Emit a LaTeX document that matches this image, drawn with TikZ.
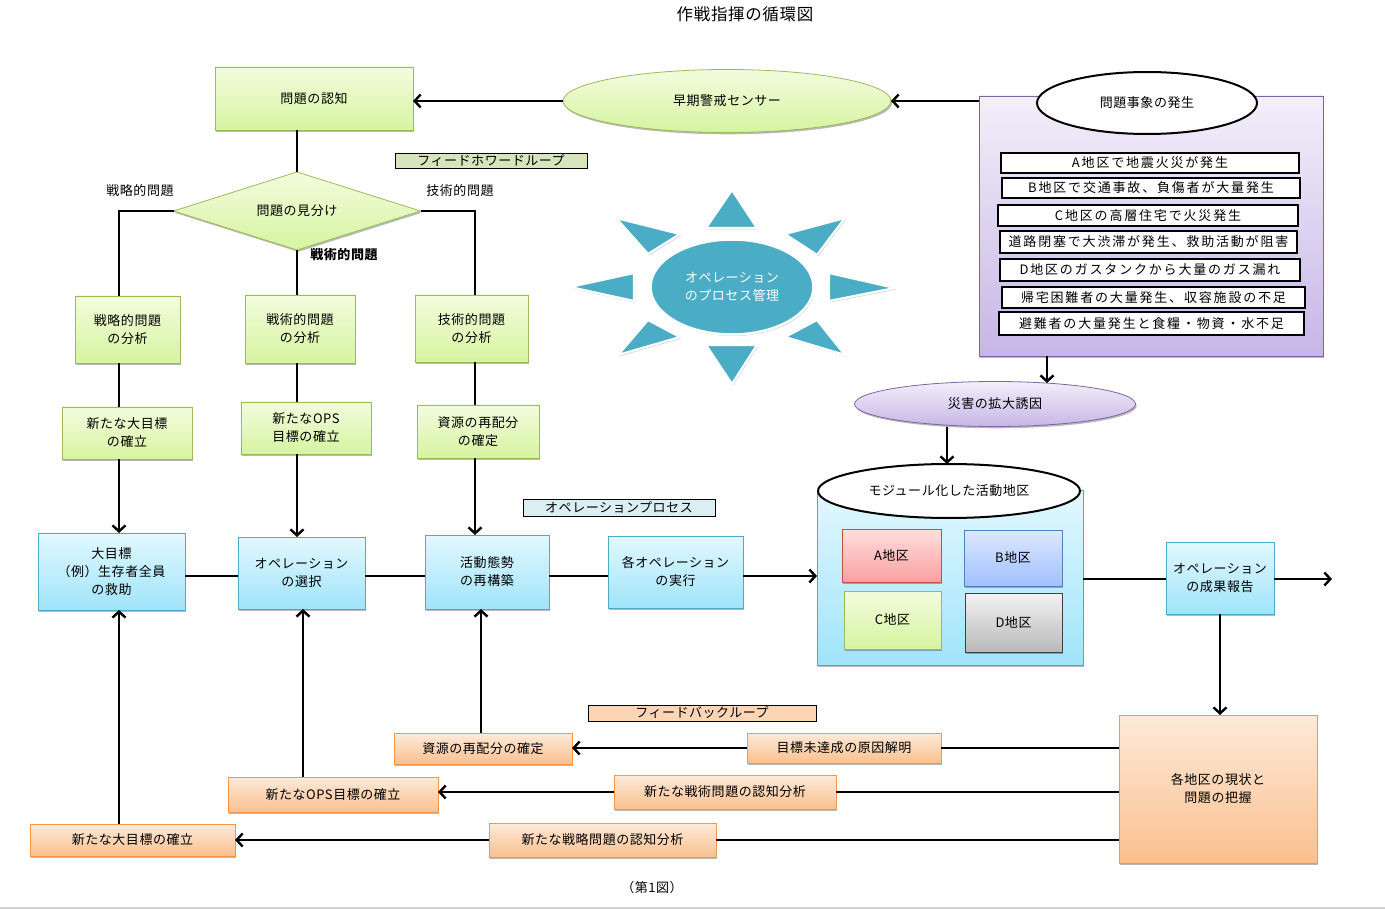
\documentclass[tikz,border=0pt]{standalone}
\usepackage{fontspec}
\newfontfamily\jp{Noto Sans CJK JP}[LetterSpace=4]
\newfontfamily\jpw{Noto Sans CJK JP}[LetterSpace=14]
\usetikzlibrary{shapes.geometric,arrows.meta,shadows}
\definecolor{gtop}{RGB}{243,252,222}
\definecolor{gbot}{RGB}{214,244,160}
\definecolor{gbrd}{RGB}{155,187,89}
\definecolor{btop}{RGB}{226,248,254}
\definecolor{bbot}{RGB}{160,228,250}
\definecolor{bbrd}{RGB}{75,172,198}
\definecolor{otop}{RGB}{253,234,218}
\definecolor{obot}{RGB}{250,192,142}
\definecolor{obrd}{RGB}{247,150,70}
\definecolor{ptop}{RGB}{243,239,250}
\definecolor{pbot}{RGB}{198,182,230}
\definecolor{pbrd}{RGB}{128,100,162}
\definecolor{sunc}{RGB}{75,172,198}
\definecolor{atop}{RGB}{255,222,222}
\definecolor{abot}{RGB}{250,160,160}
\definecolor{abrd}{RGB}{192,80,77}
\definecolor{xtop}{RGB}{222,232,255}
\definecolor{xbot}{RGB}{160,192,255}
\definecolor{xbrd}{RGB}{79,129,189}
\definecolor{dtop}{RGB}{242,242,242}
\definecolor{dbot}{RGB}{185,185,185}
\definecolor{dbrd}{RGB}{64,64,64}
\definecolor{fffill}{RGB}{215,228,188}
\definecolor{opfill}{RGB}{219,238,244}
\definecolor{fbfill}{RGB}{252,213,180}
\tikzset{
  txt/.style={font=\jp\fontsize{13}{18}\selectfont, align=center, inner sep=1pt, outer sep=0pt},
  shd/.style={drop shadow={shadow xshift=1.2pt, shadow yshift=-1.8pt, opacity=0.28, fill=black}},
  gbox/.style={txt, rectangle, draw=gbrd, line width=0.8pt, top color=gtop, bottom color=gbot, shd},
  bbox/.style={txt, rectangle, draw=bbrd, line width=0.8pt, top color=btop, bottom color=bbot, shd},
  obox/.style={txt, rectangle, draw=obrd, line width=0.8pt, top color=otop, bottom color=obot, shd},
  abox/.style={txt, rectangle, draw=abrd, line width=0.8pt, top color=atop, bottom color=abot, shd},
  xbox/.style={txt, rectangle, draw=xbrd, line width=0.8pt, top color=xtop, bottom color=xbot, shd},
  dbox/.style={txt, rectangle, draw=dbrd, line width=0.8pt, top color=dtop, bottom color=dbot, shd},
  pbox/.style={txt, rectangle, draw=pbrd, line width=0.8pt, top color=ptop, bottom color=pbot, shd},
  lbl/.style={txt, rectangle, draw=black, line width=0.8pt},
  item/.style={font=\jpw\fontsize{13}{16}\selectfont, inner sep=0pt, outer sep=0pt, rectangle, draw=black, line width=2pt, fill=white},
  conn/.style={line width=2.4pt, black},
  arr/.style={conn, -{Straight Barb[length=6pt,width=13pt]}},
  trif/.style={fill=sunc, draw=white, line width=2.2pt, line join=round, drop shadow={shadow xshift=1pt, shadow yshift=-1.5pt, opacity=0.2, fill=black}},
}
\newcommand\bx[7]{\node[#1, minimum width={#5-#3}, minimum height={#6-#4}] (#2) at ({(#3+#5)/2},{(#4+#6)/2}) {#7};}
\begin{document}
\begin{tikzpicture}[x=1pt,y=-1pt]
\useasboundingbox (0,0) rectangle (1385,909);
\fill[white] (0,0) rectangle (1385,909);
% title & caption
\node[txt, font=\jp\fontsize{16.5}{20}\selectfont] (title) at (745,14) {作戦指揮の循環図};
\node[txt] (cap) at (652,888) {（第1図）};
\draw[gray!35, line width=2pt] (0,907.5) -- (1385,907.5);
% helper coordinates
\coordinate (c1) at (119,0);
\coordinate (c2) at (297,0);
\coordinate (c3) at (475,0);
\coordinate (c2b) at (303,0);
\coordinate (c3b) at (481,0);
\coordinate (row) at (0,576);
\coordinate (row2) at (0,579);
\coordinate (ex1) at (1047,0);
\coordinate (ex2) at (947,0);
\coordinate (outend) at (1332,579);
% green column
\bx{gbox}{ninchi}{215}{67}{413}{130}{問題の認知}
\node[txt, diamond, draw=gbrd, line width=0.8pt, top color=gtop, bottom color=gbot, shd, minimum width=247, minimum height=78, aspect=3.2] (dia) at (297,211) {問題の見分け};
\node[txt] (l1) at (140,191) {戦略的問題};
\node[txt] (l3) at (460,191) {技術的問題};
\node[txt, font=\jp\bfseries\fontsize{13}{16}\selectfont] (l2) at (344,255) {戦術的問題};
\bx{gbox}{a1}{75}{296}{180}{363}{戦略的問題\\の分析}
\bx{gbox}{a2}{245}{295}{355}{363}{戦術的問題\\の分析}
\bx{gbox}{a3}{415}{295}{528}{362}{技術的問題\\の分析}
\bx{gbox}{b1}{62}{407}{192}{459}{新たな大目標\\の確立}
\bx{gbox}{b2}{241}{402}{371}{454}{新たなOPS\\目標の確立}
\bx{gbox}{b3}{417}{405}{539}{458}{資源の再配分\\の確定}
% label boxes
\bx{lbl, fill=fffill}{ffl}{395}{153}{587}{168}{フィードホワードループ}
\bx{lbl, fill=opfill}{opl}{523}{499}{715}{516}{オペレーションプロセス}
\bx{lbl, fill=fbfill}{fbl}{588}{705}{816}{721}{フィードバックループ}
% blue row
\bx{bbox}{g1}{38}{533}{185}{610}{大目標\\（例）生存者全員\\の救助}
\bx{bbox}{g2}{238}{537}{365}{609}{オペレーション\\の選択}
\bx{bbox}{g3}{425}{535}{549}{609}{活動態勢\\の再構築}
\bx{bbox}{g4}{608}{536}{743}{608}{各オペレーション\\の実行}
\bx{bbox}{mod}{817}{490}{1083}{665}{}
\node[txt, ellipse, draw=black, line width=2pt, fill=white, minimum width=262, minimum height=54] (modt) at (949,491) {モジュール化した活動地区};
\bx{abox}{da}{842}{529}{941}{582}{A地区}
\bx{xbox}{db}{964}{530}{1062}{586}{B地区}
\bx{gbox}{dc}{844}{591}{941}{649}{C地区}
\bx{dbox}{dd}{965}{593}{1062}{652}{D地区}
\bx{bbox}{rep}{1166}{542}{1274}{614}{オペレーション\\の成果報告}
% orange feedback
\bx{obox}{big}{1119}{715}{1317}{863}{各地区の現状と\\問題の把握}
\bx{obox}{o1}{394}{733}{572}{764}{資源の再配分の確定}
\bx{obox}{o2}{747}{733}{941}{763}{目標未達成の原因解明}
\bx{obox}{o3}{228}{777}{438}{812}{新たなOPS目標の確立}
\bx{obox}{o4}{614}{775}{836}{809}{新たな戦術問題の認知分析}
\bx{obox}{o6}{30}{824}{235}{856}{新たな大目標の確立}
\bx{obox}{o5}{489}{823}{716}{857}{新たな戦略問題の認知分析}
% sensor and event
\node[txt, ellipse, draw=gbrd, line width=0.8pt, top color=gtop, bottom color=gbot, shd, minimum width=328, minimum height=63] (sensor) at (727,101) {早期警戒センサー};
\bx{pbox}{event}{979}{96}{1323}{356}{}
\node[txt, ellipse, draw=black, line width=2pt, fill=white, minimum width=220, minimum height=62] (evt) at (1147,103) {問題事象の発生};
\bx{item}{e1}{1001}{153}{1299}{173}{A地区で地震火災が発生}
\bx{item}{e2}{1002}{178}{1300}{198}{B地区で交通事故、負傷者が大量発生}
\bx{item}{e3}{998}{205}{1298}{226}{C地区の高層住宅で火災発生}
\bx{item}{e4}{1000}{231}{1297}{253}{道路閉塞で大渋滞が発生、救助活動が阻害}
\bx{item}{e5}{1000}{259}{1300}{281}{D地区のガスタンクから大量のガス漏れ}
\bx{item}{e6}{1002}{287}{1305}{308}{帰宅困難者の大量発生、収容施設の不足}
\bx{item}{e7}{999}{312}{1304}{335}{避難者の大量発生と食糧・物資・水不足}
\node[txt, ellipse, draw=pbrd, line width=0.8pt, top color=ptop, bottom color=pbot, shd, minimum width=281, minimum height=45] (dis) at (995,404) {災害の拡大誘因};
% sun
\filldraw[trif] (732,190) -- (706,228) -- (757,228) -- cycle;
\filldraw[trif] (732,384) -- (706,345) -- (757,345) -- cycle;
\filldraw[trif] (570,287) -- (634,273) -- (634,301) -- cycle;
\filldraw[trif] (895,288) -- (829,273) -- (829,301) -- cycle;
\filldraw[trif] (616,218) -- (680,234) -- (648,254) -- cycle;
\filldraw[trif] (845,218) -- (785,234) -- (817,255) -- cycle;
\filldraw[trif] (618,355) -- (648,320) -- (680,337) -- cycle;
\filldraw[trif] (845,355) -- (817,320) -- (785,337) -- cycle;
\node[txt, ellipse, fill=sunc, draw=white, line width=2.5pt, text=white, minimum width=163, minimum height=95, drop shadow={shadow xshift=1pt, shadow yshift=-1.5pt, opacity=0.2, fill=black}] (sun) at (732,287) {オペレーション\\のプロセス管理};
% connectors
\draw[arr] (sensor.west) -- (sensor.west -| ninchi.east);
\draw[arr] (sensor.east -| event.west) -- (sensor.east);
\draw[conn] (dia.north |- ninchi.south) -- (dia.north);
\draw[conn] (dia.west) -| (a1.north -| c1);
\draw[conn] (dia.east) -| (a3.north -| c3);
\draw[conn] (dia.south) -- (a2.north -| dia.south);
\draw[conn] (a1.south -| c1) -- (b1.north -| c1);
\draw[conn] (a2.south -| c2) -- (b2.north -| c2);
\draw[conn] (a3.south -| c3) -- (b3.north -| c3);
\draw[arr] (b1.south -| c1) -- (g1.north -| c1);
\draw[arr] (b2.south -| c2) -- (g2.north -| c2);
\draw[arr] (b3.south -| c3) -- (g3.north -| c3);
\draw[conn] (g1.east |- row) -- (g2.west |- row);
\draw[conn] (g2.east |- row) -- (g3.west |- row);
\draw[conn] (g3.east |- row) -- (g4.west |- row);
\draw[arr] (g4.east |- row) -- (mod.west |- row);
\draw[conn] (mod.east |- row2) -- (rep.west |- row2);
\draw[arr] (rep.east |- row2) -- (outend);
\draw[arr] (rep.south) -- (big.north -| rep.south);
\draw[conn] (big.west |- o2.east) -- (o2.east);
\draw[arr] (o2.west) -- (o2.west -| o1.east);
\draw[conn] (big.west |- o4.east) -- (o4.east);
\draw[arr] (o4.west) -- (o4.west -| o3.east);
\draw[conn] (big.west |- o5.east) -- (o5.east);
\draw[arr] (o5.west) -- (o5.west -| o6.east);
\draw[arr] (o1.north -| c3b) -- (g3.south -| c3b);
\draw[arr] (o3.north -| c2b) -- (g2.south -| c2b);
\draw[arr] (o6.north -| c1) -- (g1.south -| c1);
\draw[arr] (event.south -| ex1) -- ([yshift=-1.5pt]dis.north -| ex1);
\draw[arr] (dis.south -| ex2) -- (modt.north -| ex2);
\end{tikzpicture}
\end{document}
